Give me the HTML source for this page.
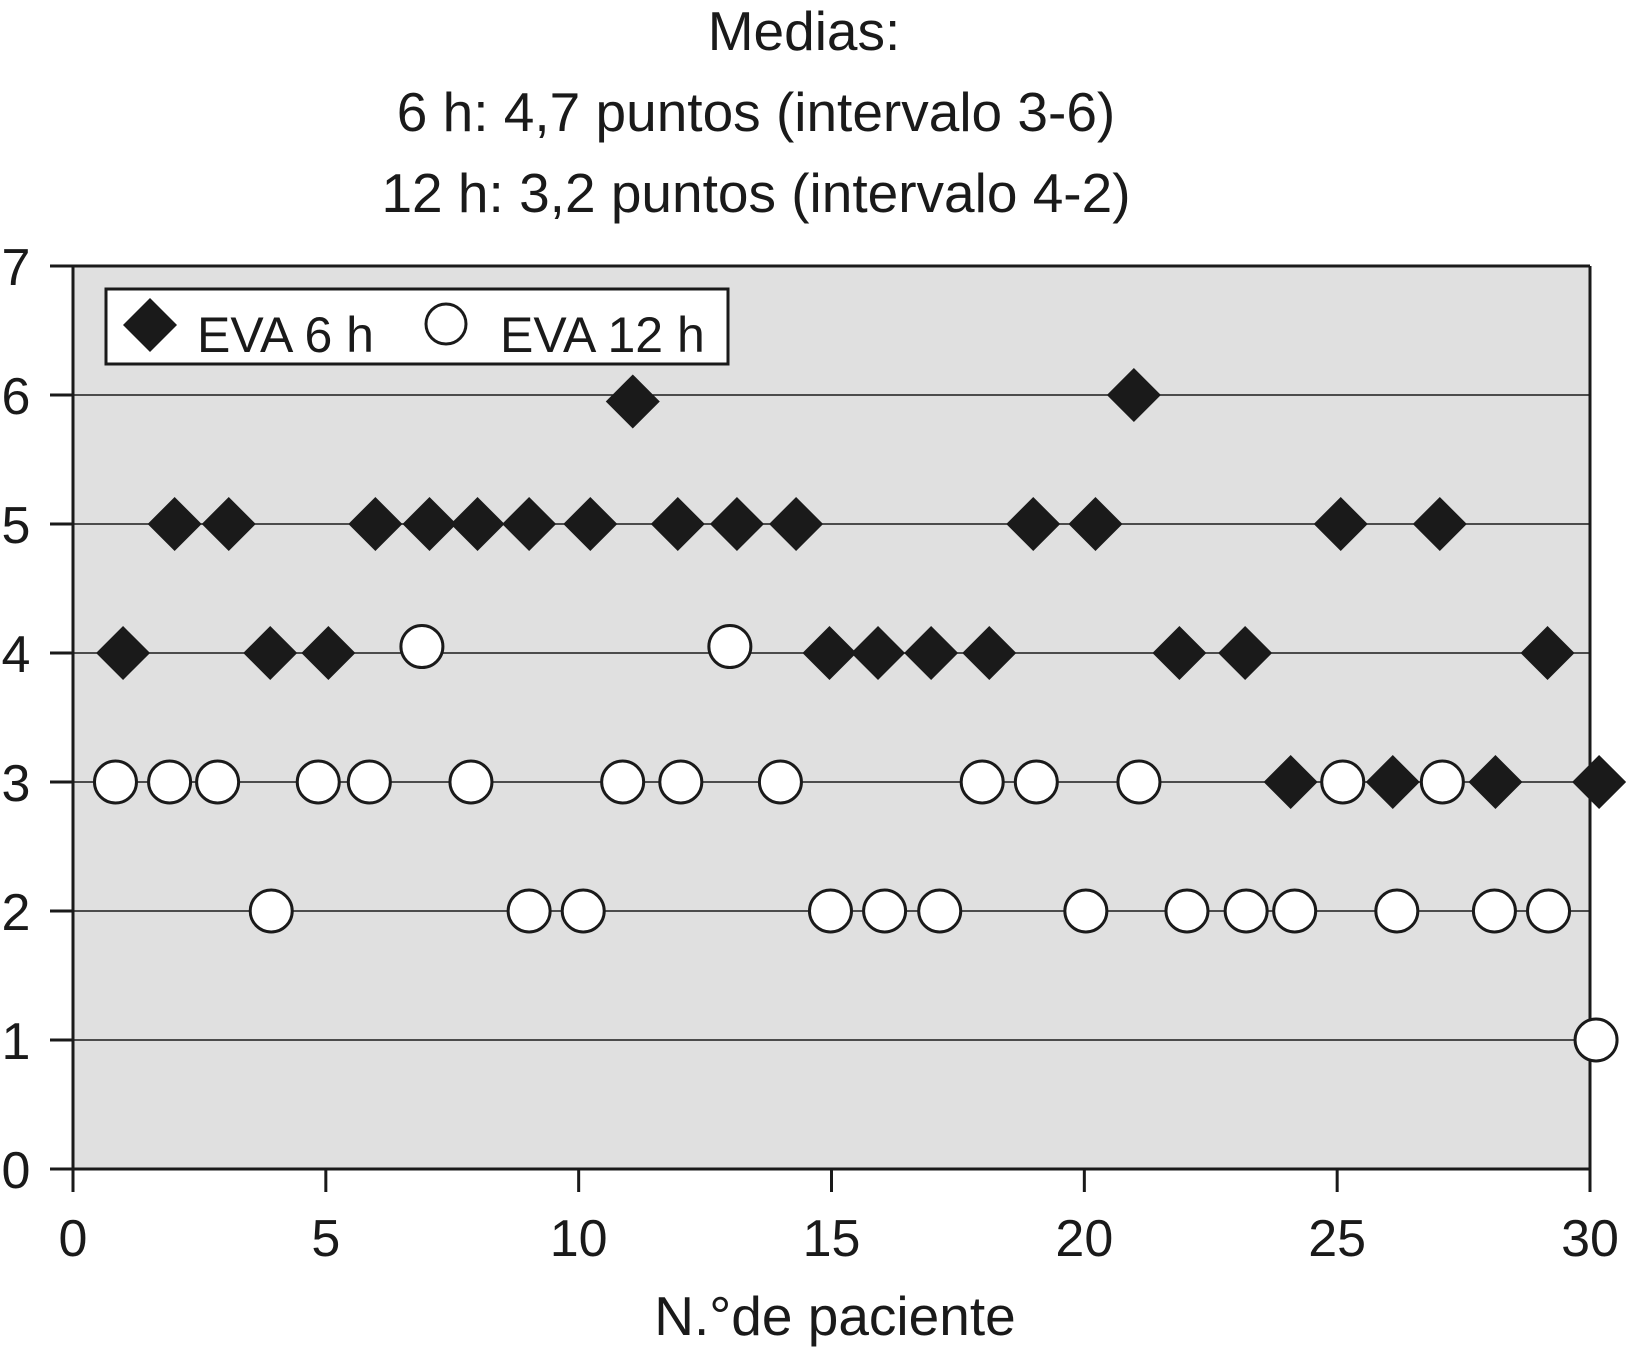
<!DOCTYPE html>
<html><head><meta charset="utf-8"><style>
html,body{margin:0;padding:0;background:#fff}
svg text{font-family:"Liberation Sans",Arial,sans-serif;fill:#1a1a1a}
</style></head><body>
<svg width="1626" height="1354" viewBox="0 0 1626 1354">
<g font-size="55" text-anchor="middle">
<text x="804" y="50">Medias:</text>
<text x="756" y="131">6 h: 4,7 puntos (intervalo 3-6)</text>
<text x="756" y="212">12 h: 3,2 puntos (intervalo 4-2)</text>
</g>
<rect x="73" y="266" width="1517" height="903" fill="#e0e0e0"/>
<g id="grid"></g>
<g id="axes"></g>
<g id="marks"></g>
<g>
<rect x="106" y="289" width="622" height="75" fill="#fff" stroke="#1a1a1a" stroke-width="3"/>
<polygon points="150,298 177,325 150,352 123,325" fill="#1a1a1a"/>
<text x="197" y="352" font-size="50">EVA 6 h</text>
<circle cx="446" cy="324" r="20" fill="#fff" stroke="#1a1a1a" stroke-width="3"/>
<text x="500" y="352" font-size="50">EVA 12 h</text>
</g>
<text x="835" y="1335" font-size="55" text-anchor="middle">N.°de paciente</text>
</svg>
<script>
const xTicks=[0,5,10,15,20,25,30];
const yTicks=[0,1,2,3,4,5,6,7];
const x6=[0.99,2.01,3.08,3.9,5.05,5.98,7.05,8,9.02,10.23,11.07,11.96,13.13,14.3,14.96,15.92,16.97,18.12,18.99,20.22,20.98,21.88,23.18,24.08,25.07,26.1,27.03,28.13,29.16,30.18];
const y6=[4,5,5,4,4,5,5,5,5,5,5.95,5,5,5,4,4,4,4,5,5,6,4,4,3,5,3,5,3,4,3];
const x12=[0.84,1.91,2.86,3.92,4.85,5.86,6.9,7.87,9.02,10.09,10.87,12.02,12.99,13.99,14.98,16.05,17.14,17.98,19.05,20.03,21.08,22.03,23.2,24.16,25.11,26.18,27.08,28.11,29.18,30.12];
const y12=[3,3,3,2,3,3,4.05,3,2,2,3,3,4.05,3,2,2,2,3,3,2,3,2,2,2,3,2,3,2,2,1];
const NS="http://www.w3.org/2000/svg";
const X=v=>73+v*(1517/30), Y=v=>1169-v*129;
function mk(t,a,p){const e=document.createElementNS(NS,t);for(const k in a)e.setAttribute(k,a[k]);p.appendChild(e);return e;}
const grid=document.getElementById('grid'),axes=document.getElementById('axes'),marks=document.getElementById('marks');
yTicks.forEach(v=>{
 if(v>0&&v<7){const l=mk('line',{x1:73,x2:1590,y1:Y(v),y2:Y(v),stroke:'#1a1a1a','stroke-width':1.5},grid);
 
 }
 const t=mk('line',{x1:50,x2:73,y1:Y(v),y2:Y(v),stroke:'#1a1a1a','stroke-width':3},axes);
 
 
 const tx=mk('text',{x:16,y:Y(v)+19,'font-size':52,'text-anchor':'middle'},axes);tx.textContent=v;
 
 
});
mk('line',{x1:73,x2:73,y1:266,y2:1169,stroke:'#1a1a1a','stroke-width':3},axes);
mk('line',{x1:50,x2:1590,y1:1169,y2:1169,stroke:'#1a1a1a','stroke-width':3},axes);
mk('line',{x1:73,x2:1590,y1:266,y2:266,stroke:'#1a1a1a','stroke-width':3},axes);
mk('line',{x1:1590,x2:1590,y1:266,y2:1169,stroke:'#1a1a1a','stroke-width':3},axes);
xTicks.forEach(v=>{
 const t=mk('line',{x1:X(v),x2:X(v),y1:1169,y2:1192,stroke:'#1a1a1a','stroke-width':3},axes);
 
 
 const tx=mk('text',{x:X(v),y:1256,'font-size':52,'text-anchor':'middle'},axes);tx.textContent=v;
 
 
});
x6.forEach((v,i)=>{const cx=X(v),cy=Y(y6[i]),s=27;
 const p=mk('polygon',{points:`${cx},${cy-s} ${cx+s},${cy} ${cx},${cy+s} ${cx-s},${cy}`,fill:'#1a1a1a'},marks);
 
 });
x12.forEach((v,i)=>{
 const c=mk('circle',{cx:X(v),cy:Y(y12[i]),r:21,fill:'#fff',stroke:'#1a1a1a','stroke-width':3},marks);
 
 });
</script>
</body></html>
